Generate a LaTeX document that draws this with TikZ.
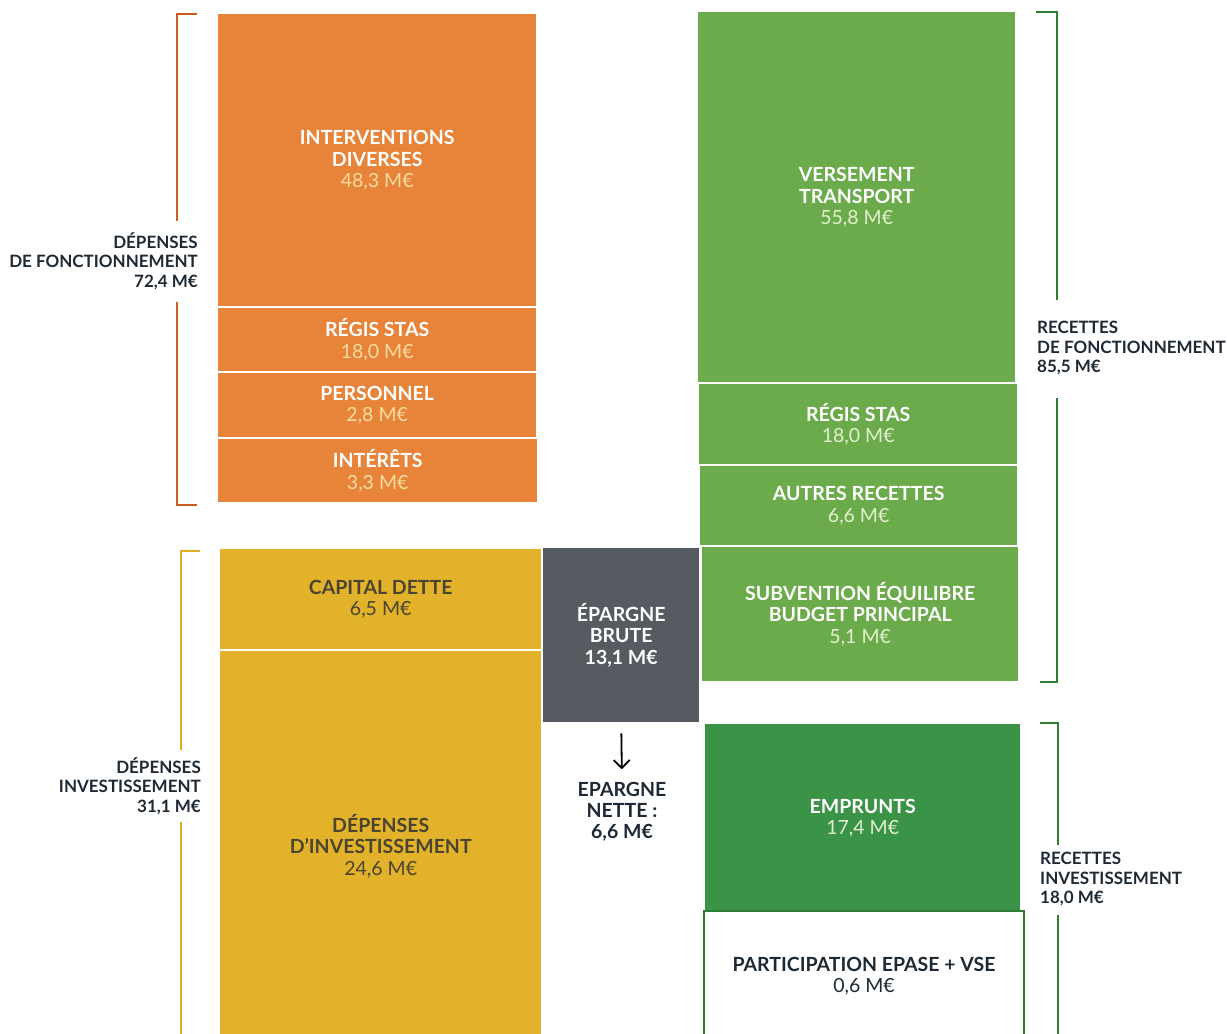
\documentclass[tikz,border=0pt]{standalone}
\usepackage{fontspec}
\setmainfont{Lato}
\usetikzlibrary{arrows.meta}

\definecolor{fonct}{HTML}{E8843A}
\definecolor{fonctval}{HTML}{F9DCA0}
\definecolor{fonctbr}{HTML}{CC5A1E}
\definecolor{invest}{HTML}{E2B22A}
\definecolor{investtxt}{HTML}{4A4430}
\definecolor{investbr}{HTML}{DDAE1E}
\definecolor{brute}{HTML}{555B61}
\definecolor{recette}{HTML}{6CAB4B}
\definecolor{emprunt}{HTML}{3B9347}
\definecolor{recettebr}{HTML}{2E7D32}
\definecolor{recetteval}{HTML}{E3F0CF}
\definecolor{texte}{HTML}{1E2933}

\begin{document}
\begin{tikzpicture}[x=1pt,y=-1pt,
    bloc/.style={anchor=north west,inner sep=0pt,align=center,
      font=\fontsize{19.5}{21.5}\selectfont},
    legende/.style={inner sep=0pt,text=texte,
      font=\bfseries\fontsize{17}{19.5}\selectfont},
    crochet/.style={line width=2pt}]
  \useasboundingbox (0,0) rectangle (1227,1034);

  % depenses de fonctionnement
  \node[bloc,fill=fonct,text=white,minimum width=318pt,minimum height=292pt] (interv) at (218,14)
    {\textbf{INTERVENTIONS}\\\textbf{DIVERSES}\\\textcolor{fonctval}{48,3 M€}};
  \node[bloc,fill=fonct,text=white,minimum width=318pt,minimum height=63pt] (regisd) at (218,308)
    {\textbf{RÉGIS STAS}\\\textcolor{fonctval}{18,0 M€}};
  \node[bloc,fill=fonct,text=white,minimum width=318pt,minimum height=64pt] (perso) at (218,373)
    {\textbf{PERSONNEL}\\\textcolor{fonctval}{2,8 M€}};
  \node[bloc,fill=fonct,text=white,minimum width=319pt,minimum height=63pt] (interets) at (218,439)
    {\textbf{INTÉRÊTS}\\\textcolor{fonctval}{3,3 M€}};

  % depenses d'investissement
  \node[bloc,fill=invest,text=investtxt,minimum width=321pt,minimum height=100pt] (capital) at (220,549)
    {\textbf{CAPITAL DETTE}\\6,5 M€};
  \node[bloc,fill=invest,text=investtxt,minimum width=321pt,minimum height=390pt] (depinv) at (220,651)
    {\textbf{DÉPENSES}\\\textbf{D'INVESTISSEMENT}\\24,6 M€};

  % epargne
  \node[bloc,fill=brute,text=white,minimum width=156pt,minimum height=174pt] (brute) at (543,548)
    {\textbf{ÉPARGNE}\\\textbf{BRUTE}\\\textbf{13,1 M€}};
  \node[legende,align=center,font=\bfseries\fontsize{19.5}{21}\selectfont] (nette) at (622,812)
    {EPARGNE\\NETTE :\\6,6 M€};
  \draw[-{Straight Barb[length=8pt,width=16pt]},line width=1.8pt,shorten <=11pt,shorten >=13pt]
    (brute.south) -- (nette.north);

  % recettes de fonctionnement
  \node[bloc,fill=recette,text=white,minimum width=317pt,minimum height=370pt] (versement) at (698,12)
    {\textbf{VERSEMENT}\\\textbf{TRANSPORT}\\\textcolor{recetteval}{55,8 M€}};
  \node[bloc,fill=recette,text=white,minimum width=318pt,minimum height=80pt] (regisr) at (699,384)
    {\textbf{RÉGIS STAS}\\\textcolor{recetteval}{18,0 M€}};
  \node[bloc,fill=recette,text=white,minimum width=317pt,minimum height=79pt] (autres) at (700,466)
    {\textbf{AUTRES RECETTES}\\\textcolor{recetteval}{6,6 M€}};
  \node[bloc,fill=recette,text=white,minimum width=316pt,minimum height=134pt] (subvention) at (702,547)
    {\textbf{SUBVENTION ÉQUILIBRE}\\\textbf{BUDGET PRINCIPAL}\\\textcolor{recetteval}{5,1 M€}};

  % recettes d'investissement
  \node[bloc,fill=emprunt,text=white,minimum width=315pt,minimum height=188pt] (emprunts) at (705,724)
    {\textbf{EMPRUNTS}\\\textcolor{recetteval}{17,4 M€}};
  \node[bloc,draw=recettebr,line width=2pt,text=texte,minimum width=320pt,minimum height=130pt] (particip) at (703,910)
    {\textbf{PARTICIPATION EPASE + VSE}\\0,6 M€};

  % accolades et legendes
  \node[legende,anchor=east,align=right] (dfonct) at (198,261) {DÉPENSES\\DE FONCTIONNEMENT\\72,4 M€};
  \draw[crochet,fonctbr] (197,14) -| (177,221);
  \draw[crochet,fonctbr] (177,302) |- (197,505);

  \node[legende,anchor=east,align=right] (dinv) at (201,786) {DÉPENSES\\INVESTISSEMENT\\31,1 M€};
  \draw[crochet,investbr] (200,551) -| (181,750);
  \draw[crochet,investbr] (181,822) -- (181,1040);

  \node[legende,anchor=west,align=left] (rfonct) at (1037,348) {RECETTES\\DE FONCTIONNEMENT\\85,5 M€};
  \draw[crochet,recettebr] (1036,12) -| (1057,300);
  \draw[crochet,recettebr] (1057,398) |- (1040,682);

  \node[legende,anchor=west,align=left] (rinv) at (1040,879) {RECETTES\\INVESTISSEMENT\\18,0 M€};
  \draw[crochet,recettebr] (1040,723) -| (1058,845);
  \draw[crochet,recettebr] (1058,915) -- (1058,1040);
\end{tikzpicture}
\end{document}
